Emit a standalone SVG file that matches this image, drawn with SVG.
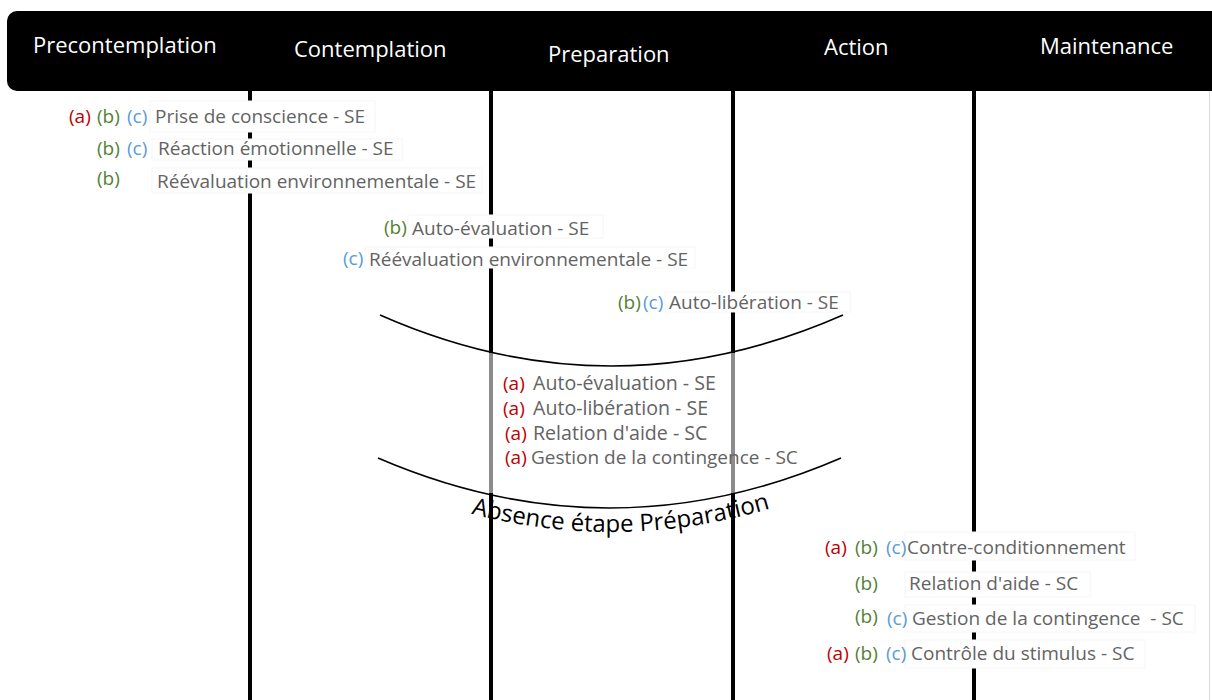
<svg xmlns="http://www.w3.org/2000/svg" width="1212" height="700" viewBox="0 0 1212 700">
<defs>
<style>
.hd{font-family:"Open Sans","Noto Sans",sans-serif;font-size:22px;fill:#ffffff}
.t{font-family:"Open Sans","Noto Sans",sans-serif;font-size:19px;fill:#636363}
.a{font-family:"Open Sans","Noto Sans",sans-serif;font-size:19px;fill:#c00000}
.b{font-family:"Open Sans","Noto Sans",sans-serif;font-size:19px;fill:#538135}
.c{font-family:"Open Sans","Noto Sans",sans-serif;font-size:19px;fill:#5b9bd5}
.vl{stroke:#000;stroke-width:4;fill:none}
.arc{stroke:#000;stroke-width:1.6;fill:none}
.box{fill:#fff;stroke:#f6f6f6;stroke-width:1}
</style>
<path id="absPath" d="M 380 482 Q 611 582 843 482"/>
</defs>
<rect x="0" y="0" width="1212" height="700" fill="#fff"/>
<line x1="1209.5" y1="90" x2="1209.5" y2="700" stroke="#d9d9d9" stroke-width="1"/>
<g id="header">
<rect x="7" y="11" width="1215" height="80" rx="10" ry="10" fill="#000"/>
<text class="hd" x="33" y="53">Precontemplation</text>
<text class="hd" x="294" y="57">Contemplation</text>
<text class="hd" x="548" y="62">Preparation</text>
<text class="hd" x="824" y="55">Action</text>
<text class="hd" x="1040" y="54">Maintenance</text>
</g>
<g id="connectors">
<line class="vl" x1="250" y1="91" x2="250" y2="700"/>
<line class="vl" x1="491" y1="91" x2="491" y2="700"/>
<line class="vl" x1="733" y1="91" x2="733" y2="700"/>
<line class="vl" x1="974" y1="91" x2="974" y2="700"/>
</g>
<g id="boxes">
<rect class="box" x="150" y="101" width="225" height="31"/>
<rect class="box" x="152" y="139" width="250" height="21"/>
<rect class="box" x="152" y="168" width="330" height="25"/>
<rect class="box" x="408" y="215" width="195" height="23"/>
<rect class="box" x="365" y="247" width="330" height="21"/>
<rect class="box" x="665" y="292" width="185" height="20"/>
<rect class="box" x="905" y="532" width="230" height="28"/>
<rect class="box" x="905" y="572" width="185" height="25"/>
<rect class="box" x="905" y="605" width="290" height="27"/>
<rect class="box" x="905" y="640" width="240" height="28"/>
<rect x="486" y="353" width="252" height="140" fill="#fff" fill-opacity="0.55"/>
</g>
<g id="arcs">
<path class="arc" d="M 380 315 Q 611 417 843 315"/>
<path class="arc" d="M 378 458 Q 610 558 841 458"/>
</g>
<g id="precontemplation-items">
<text class="a" x="69" y="123">(a)</text><text class="b" x="97" y="123">(b)</text><text class="c" x="127" y="123">(c)</text>
<text class="t" x="155" y="123">Prise de conscience - SE</text>
<text class="b" x="97" y="155">(b)</text><text class="c" x="127" y="155">(c)</text>
<text class="t" x="158" y="155">Réaction émotionnelle - SE</text>
<text class="b" x="97" y="185">(b)</text>
<text class="t" x="157" y="188">Réévaluation environnementale - SE</text>
</g>
<g id="contemplation-items">
<text class="b" x="384" y="234">(b)</text>
<text class="t" x="412" y="235">Auto-évaluation - SE</text>
<text class="c" x="343" y="265">(c)</text>
<text class="t" x="369" y="266">Réévaluation environnementale - SE</text>
<text class="b" x="618" y="309">(b)</text><text class="c" x="643" y="309">(c)</text>
<text class="t" x="669" y="309">Auto-libération - SE</text>
</g>
<g id="preparation-items">
<text class="a" x="503" y="390">(a)</text><text class="t" x="533" y="390" style="font-size:19.6px">Auto-évaluation - SE</text>
<text class="a" x="503" y="415">(a)</text><text class="t" x="533" y="415" style="font-size:19.6px">Auto-libération - SE</text>
<text class="a" x="505" y="440">(a)</text><text class="t" x="533" y="440" style="font-size:19.6px">Relation d'aide - SC</text>
<text class="a" x="505" y="464">(a)</text><text class="t" x="531" y="464">Gestion de la contingence - SC</text>
</g>
<g id="absence-label">
<text font-family="'Open Sans','Noto Sans',sans-serif" font-size="24" fill="#000" text-anchor="middle"><textPath href="#absPath" startOffset="52%">Absence étape Préparation</textPath></text>
</g>
<g id="maintenance-items">
<text class="a" x="825" y="554">(a)</text><text class="b" x="855" y="554">(b)</text><text class="c" x="886" y="554">(c)</text>
<text class="t" x="907" y="554">Contre-conditionnement</text>
<text class="b" x="855" y="590">(b)</text>
<text class="t" x="909" y="590">Relation d'aide - SC</text>
<text class="b" x="855" y="623">(b)</text><text class="c" x="887" y="625">(c)</text>
<text class="t" x="912" y="625">Gestion de la contingence&#160; - SC</text>
<text class="a" x="827" y="660">(a)</text><text class="b" x="855" y="660">(b)</text><text class="c" x="886" y="660">(c)</text>
<text class="t" x="911" y="660">Contrôle du stimulus - SC</text>
</g>
</svg>
